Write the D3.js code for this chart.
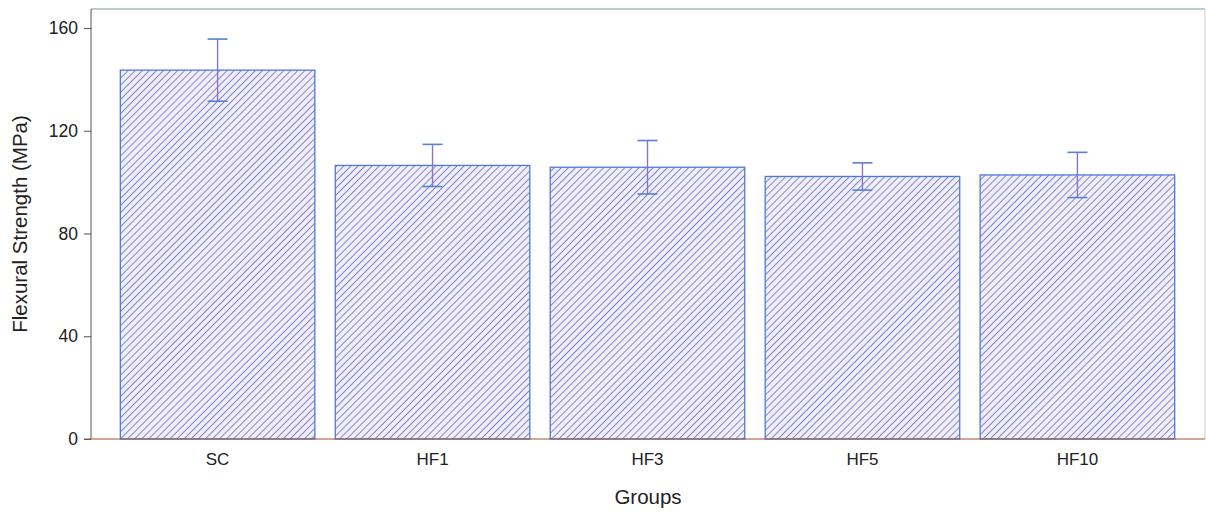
<!DOCTYPE html>
<html lang="en">
<head>
  <meta charset="UTF-8">
  <title>Flexural Strength</title>
  <style>
    body { margin: 0; background: #fff; }
    text { font-family: "Liberation Sans", Arial, sans-serif; fill: #222; }
  </style>
</head>
<body>
  <svg width="1206" height="514"></svg>

  <script src="https://d3js.org/d3.v7.min.js"></script>
  <script>
    const groups = ["SC", "HF1", "HF3", "HF5", "HF10"];
    const means = [143.6, 106.5, 105.8, 102.2, 102.8];
    const errs = [12.1, 8.2, 10.4, 5.3, 8.8];
    const yTicks = [0, 40, 80, 120, 160];

    const svg = d3.select("svg");
    const plotL = 91, plotR = 1205, plotT = 9, plotB = 439;

    const x = d3.scaleBand()
      .domain(groups)
      .range([110, 1185])
      .paddingInner(0.095)
      .paddingOuter(0.048);

    const y = d3.scaleLinear().domain([0, 167.4]).range([plotB, plotT]);

    // hatch pattern
    const pat = svg.append("defs").append("pattern")
      .attr("id", "hatch")
      .attr("patternUnits", "userSpaceOnUse")
      .attr("width", 5)
      .attr("height", 5)
      .attr("patternTransform", "rotate(45)");
    pat.append("rect").attr("width", 5).attr("height", 5).attr("fill", "#f6ecf4");
    pat.append("line")
      .attr("x1", 0).attr("y1", 0).attr("x2", 0).attr("y2", 5)
      .attr("stroke", "#6f8edb").attr("stroke-width", 2);

    // plot frame
    svg.append("line").attr("x1", plotL).attr("x2", plotR).attr("y1", plotT).attr("y2", plotT)
      .attr("stroke", "#7a9aa0").attr("stroke-width", 1.2);
    svg.append("line").attr("x1", plotR).attr("x2", plotR).attr("y1", plotT).attr("y2", plotB)
      .attr("stroke", "#f0c8c0").attr("stroke-width", 1.2);

    // bars
    svg.selectAll(".bar")
      .data(groups)
      .join("rect")
      .attr("class", "bar")
      .attr("x", d => x(d))
      .attr("y", (d, i) => y(means[i]))
      .attr("width", x.bandwidth())
      .attr("height", (d, i) => y(0) - y(means[i]))
      .attr("fill", "url(#hatch)")
      .attr("stroke", "#4d7ad8")
      .attr("stroke-width", 1.3);

    // error bars
    const eb = svg.selectAll(".err")
      .data(groups)
      .join("g")
      .attr("class", "err")
      .attr("transform", d => `translate(${x(d) + x.bandwidth() / 2},0)`);
    eb.append("line")
      .attr("y1", (d, i) => y(means[i] + errs[i]))
      .attr("y2", (d, i) => y(means[i] - errs[i]))
      .attr("stroke", "#8a74c4").attr("stroke-width", 1.4);
    eb.append("line")
      .attr("x1", -10).attr("x2", 10)
      .attr("y1", (d, i) => y(means[i] + errs[i]))
      .attr("y2", (d, i) => y(means[i] + errs[i]))
      .attr("stroke", "#5a80d0").attr("stroke-width", 1.6);
    eb.append("line")
      .attr("x1", -10).attr("x2", 10)
      .attr("y1", (d, i) => y(means[i] - errs[i]))
      .attr("y2", (d, i) => y(means[i] - errs[i]))
      .attr("stroke", "#5a80d0").attr("stroke-width", 1.6);

    // y axis
    const yAxis = svg.append("g")
      .attr("transform", `translate(${plotL},0)`)
      .call(d3.axisLeft(y).tickValues(yTicks).tickSize(7).tickPadding(6).tickFormat(d3.format("d")));
    yAxis.select(".domain").attr("stroke", "#555").attr("d", `M0,${plotT}V${plotB}`);
    yAxis.selectAll(".tick line").attr("stroke", "#555");
    yAxis.selectAll(".tick text").attr("font-size", 17.5).style("font-family", "Liberation Sans, Arial, sans-serif").attr("fill", "#222");

    // x axis
    const xAxis = svg.append("g")
      .attr("transform", `translate(0,${plotB})`)
      .call(d3.axisBottom(x).tickSize(0).tickPadding(14));
    xAxis.select(".domain").attr("stroke", "#a0522d").attr("stroke-width", 1.2)
      .attr("d", `M${plotL - 7},0H${plotR}`);
    xAxis.selectAll(".tick text").attr("font-size", 17).style("font-family", "Liberation Sans, Arial, sans-serif").attr("fill", "#222");

    // titles
    svg.append("text")
      .attr("x", 648).attr("y", 504)
      .attr("text-anchor", "middle")
      .attr("font-size", 20.5)
      .text("Groups");
    svg.append("text")
      .attr("transform", `translate(27,${(plotT + plotB) / 2}) rotate(-90)`)
      .attr("text-anchor", "middle")
      .attr("font-size", 20.5)
      .text("Flexural Strength (MPa)");
  </script>
</body>
</html>
